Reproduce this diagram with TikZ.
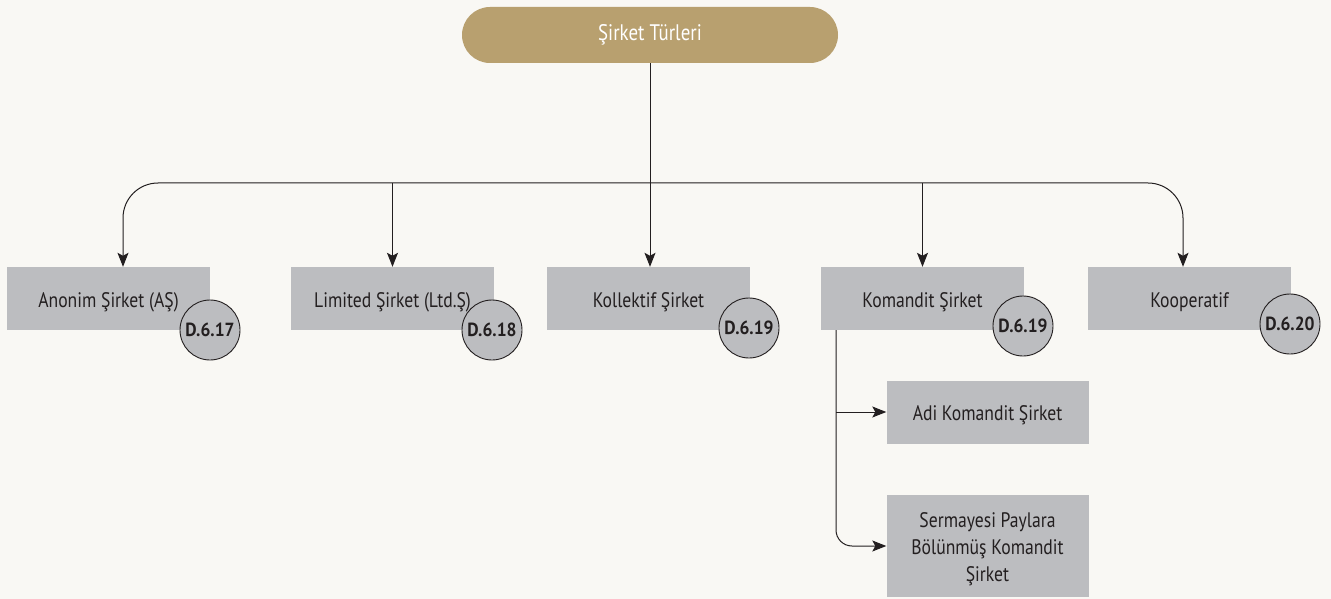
\documentclass[tikz,border=0pt]{standalone}
\usepackage{fontspec}
\setmainfont{PT Sans}[FakeStretch=0.84]
\newfontfamily\badgefont{PT Sans}[FakeStretch=0.92]
\usetikzlibrary{arrows.meta}
\definecolor{bg}{HTML}{F9F8F4}
\definecolor{gold}{HTML}{B8A06F}
\definecolor{boxgray}{HTML}{BCBDC0}
\definecolor{ink}{HTML}{231F20}
\tikzset{
  typebox/.style={fill=boxgray, draw=none, minimum width=203pt, minimum height=63pt, inner sep=0pt, text=ink, font=\fontsize{21}{26}\selectfont, align=center, text height=21pt, text depth=4pt},
  subbox/.style={typebox, minimum width=202pt},
  badge/.style={circle, fill=boxgray, draw=ink, line width=0.9pt, minimum size=60pt, inner sep=0pt, text=ink, font=\badgefont\bfseries\fontsize{19}{22}\selectfont},
  conn/.style={draw=ink, line width=1pt},
  arr/.style={conn, -{Stealth[length=14pt,width=11pt,inset=3pt]}},
}
\begin{document}
\begin{tikzpicture}[x=1pt,y=-1pt]
\fill[bg] (0,0) rectangle (1331,599);
\useasboundingbox (0,0) rectangle (1331,599);
\node[fill=gold, rounded corners=28pt, minimum width=376pt, minimum height=56pt, inner sep=0pt, text=white, font=\fontsize{22.5}{26}\selectfont] (top) at (650,35) {Şirket Türleri};
\coordinate (hub) at (650,183);
\node[typebox] (b1) at (108.5,298.5) {Anonim Şirket (AŞ)};
\node[typebox] (b2) at (392.5,298.5) {Limited Şirket (Ltd.Ş)};
\node[typebox] (b3) at (648.5,298.5) {Kollektif Şirket};
\node[typebox] (b4) at (922.5,298.5) {Komandit Şirket};
\node[typebox] (b5) at (1189.5,298.5) {Kooperatif};
\node[badge] (d1) at (210,330) {D.6.17};
\node[badge] (d2) at (492,330) {D.6.18};
\node[badge] (d3) at (749,328) {D.6.19};
\node[badge] (d4) at (1023,326) {D.6.19};
\node[badge] (d5) at (1290,324) {D.6.20};
\node[subbox] (adi) at (987.5,412) {Adi Komandit Şirket};
\node[fill=boxgray, minimum width=202pt, minimum height=102pt, inner sep=0pt, text=ink, font=\fontsize{21}{27}\selectfont] (serm) at (987.5,546) {\raisebox{-3pt}[\height][\depth]{\parbox{200pt}{\centering Sermayesi Paylara\\Bölünmüş Komandit\\Şirket}}};
\draw[conn] (top.south) -- (hub);
\draw[arr, rounded corners=35pt] (hub) -| ([xshift=14.5pt]b1.north);
\draw[arr, rounded corners=35pt] (hub) -| ([xshift=-6.5pt]b5.north);
\draw[arr] (b2.north |- hub) -- (b2.north);
\draw[arr] (hub) -- (b3.north -| hub);
\draw[arr] (b4.north |- hub) -- (b4.north);
\coordinate (k) at (836,330);
\draw[arr] (k |- adi.west) -- (adi.west);
\draw[arr, rounded corners=16pt] (k) |- (serm.west);
\end{tikzpicture}
\end{document}
